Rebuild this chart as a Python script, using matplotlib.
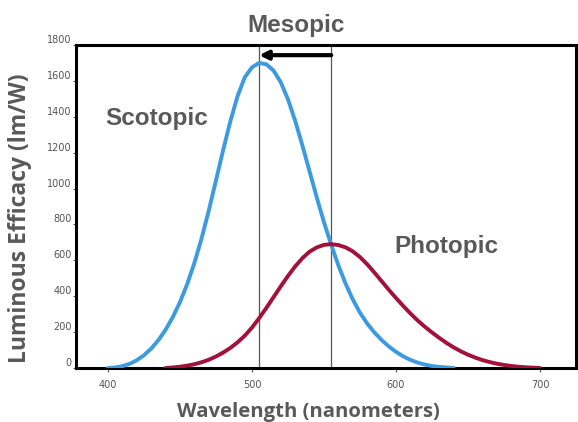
import numpy as np
import matplotlib
matplotlib.use("Agg")
import matplotlib.pyplot as plt

# wavelengths (nm) and luminous efficacy (lm/W)
wl_scot = [400, 405, 410, 415, 420, 425, 430, 435, 440, 445, 450, 455, 460, 465, 470, 475,
           480, 485, 490, 495, 500, 505, 510, 515, 520, 525, 530, 535, 540, 545, 550, 555,
           560, 565, 570, 575, 580, 585, 590, 595, 600, 605, 610, 615, 620, 625, 630, 635, 640]
scotopic = [0, 3, 10, 23, 43, 71, 108, 155, 213, 283, 367, 467, 585, 722, 877, 1045,
            1215, 1375, 1515, 1620, 1675, 1700, 1692, 1657, 1592, 1497, 1377, 1240, 1095, 950, 812, 687,
            572, 470, 382, 308, 248, 198, 156, 120, 90, 65, 45, 30, 19, 11, 6, 3, 0]

wl_phot = [440, 445, 450, 455, 460, 465, 470, 475, 480, 485, 490, 495, 500, 505, 510, 515,
           520, 525, 530, 535, 540, 545, 550, 555, 560, 565, 570, 575, 580, 585, 590, 595,
           600, 605, 610, 615, 620, 625, 630, 635, 640, 645, 650, 655, 660, 665, 670, 675,
           680, 685, 690, 695, 700]
photopic = [0, 3, 7, 13, 21, 32, 46, 64, 86, 112, 143, 180, 225, 278, 335, 395,
            455, 513, 566, 612, 648, 672, 686, 690, 685, 672, 650, 618, 578, 532, 484, 436,
            390, 346, 304, 265, 230, 198, 168, 140, 115, 93, 74, 58, 44, 33, 24, 17,
            11, 7, 4, 2, 0]

xticks = [400, 500, 600, 700]
yticks = [0, 200, 400, 600, 800, 1000, 1200, 1400, 1600, 1800]
mesopic_range = [505, 555]

label_col = "#595959"

fig = plt.figure(figsize=(5.78, 4.22), dpi=100)
ax = fig.add_axes([0.1315, 0.128, 0.865, 0.7655])

ax.plot(wl_scot, scotopic, color="#3c9ae0", lw=2.8, solid_capstyle="round",
        solid_joinstyle="round", zorder=3)
ax.plot(wl_phot, photopic, color="#a3103a", lw=2.8, solid_capstyle="round",
        solid_joinstyle="round", zorder=3)

for w in mesopic_range:
    ax.axvline(w, color="#555555", lw=0.9, zorder=2)

ax.annotate("", xy=(mesopic_range[0], 1743), xytext=(mesopic_range[1], 1743),
            arrowprops=dict(arrowstyle="-|>,head_length=0.5,head_width=0.25",
                            color="black", lw=3, shrinkA=0, shrinkB=0))

ax.set_xlim(377.8, 725)
ax.set_ylim(0, 1800)
ax.set_xticks(xticks)
ax.set_yticks(yticks)
ax.tick_params(axis="x", labelsize=7, colors="#555555", length=3, width=0.8, pad=6)
ax.tick_params(axis="y", labelsize=7, colors="#555555", length=2, width=0.8, pad=1)
for lab in ax.get_yticklabels():
    lab.set_verticalalignment("bottom")

for s in ax.spines.values():
    s.set_linewidth(2.2)
    s.set_color("black")

txt = dict(fontsize=17.5, fontweight="bold", color=label_col, family="Liberation Sans")
ax.text(398, 1353, "Scotopic", ha="left", va="baseline", **txt)
ax.text(599, 640, "Photopic", ha="left", va="baseline", **txt)
ax.text(530.5, 1872, "Mesopic", ha="center", va="baseline", clip_on=False, **txt)

fig.text(20 / 578, 1 - 218 / 422, "Luminous Efficacy (lm/W)", rotation=90,
         ha="center", va="center", fontsize=16.5, fontweight="bold", color=label_col,
         family="Open Sans")
fig.text(308 / 578, 1 - 417 / 422, "Wavelength (nanometers)", ha="center", va="baseline",
         fontsize=14.6, fontweight="bold", color=label_col, family="Open Sans")

fig.savefig("out.png", dpi=100)
